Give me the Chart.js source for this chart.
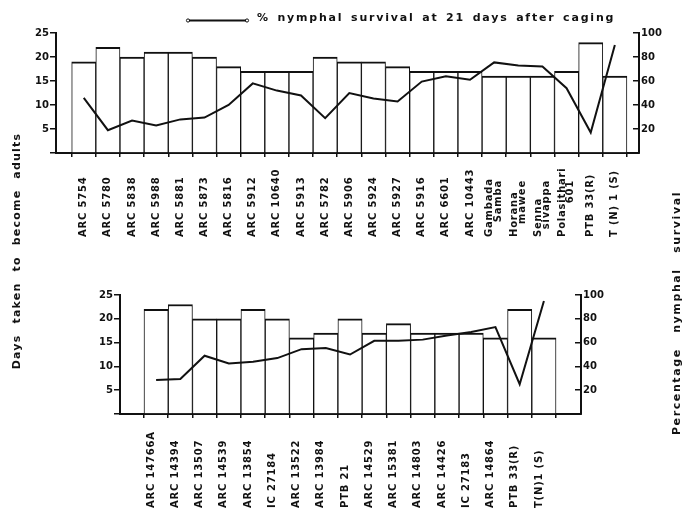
<!DOCTYPE html>
<html>
<head>
<meta charset="utf-8">
<script src="https://cdn.jsdelivr.net/npm/chart.js@4"></script>
<style>
  html, body { margin: 0; padding: 0; background: #fff; }
  #wrap { position: relative; width: 685px; height: 508px; overflow: hidden; }
  #wrap canvas { position: absolute; left: 0; top: 0; }
</style>
</head>
<body>
<div id="wrap">
  <canvas id="topChart" width="685" height="508"></canvas>
  <canvas id="bottomChart" width="685" height="508"></canvas>
</div>
<script>
// upper panel
const topVarieties = ['ARC 5754', 'ARC 5780', 'ARC 5838', 'ARC 5988', 'ARC 5881', 'ARC 5873',
  'ARC 5816', 'ARC 5912', 'ARC 10640', 'ARC 5913', 'ARC 5782', 'ARC 5906', 'ARC 5924',
  'ARC 5927', 'ARC 5916', 'ARC 6601', 'ARC 10443', ['Gambada', 'Samba'], ['Horana', 'mawee'],
  ['Senna', 'sivappa'], ['Polasithari', '601'], 'PTB 33(R)', 'T (N) 1 (S)'];
const topDays = [19, 22, 20, 21, 21, 20, 18, 17, 17, 17, 20, 19, 19, 18, 17, 17, 17, 16, 16, 16, 17, 23, 16];
const topSurvival = [46, 19, 27, 23, 28, 29.5, 40, 58, 52, 48, 29, 50, 45.5, 43, 59.5, 64, 61, 75.5, 73, 72, 54, 17, 90];

// lower panel
const bottomVarieties = ['ARC 14766A', 'ARC 14394', 'ARC 13507', 'ARC 14539', 'ARC 13854', 'IC 27184',
  'ARC 13522', 'ARC 13984', 'PTB 21', 'ARC 14529', 'ARC 15381', 'ARC 14803', 'ARC 14426',
  'IC 27183', 'ARC 14864', 'PTB 33(R)', 'T(N)1 (S)'];
const bottomDays = [22, 23, 20, 20, 22, 20, 16, 17, 20, 17, 19, 17, 17, 17, 16, 22, 16];
const bottomSurvival = [28.5, 29.5, 49, 42.5, 44, 47, 54.5, 55.5, 50, 61.5, 61.5, 62.5, 66, 69, 73, 25, 95];

const daysMax = 25, daysStep = 5;
const survivalMax = 100, survivalStep = 20;

const legendText = '% nymphal survival at 21 days after caging';
const leftTitle = 'Days taken to become adults';
const rightTitle = 'Percentage nymphal survival';

const ink = '#111';
const W = 685, H = 508;

function makePanel(id, cats, days, survival, geo, extra) {
  const tickFont = { family: 'DejaVu Sans', size: 10, weight: 'bold' };

  // variety names, rotated; first line starts at a common baseline,
  // a second line (two-word names) hangs from the top
  const rotLabels = {
    id: 'rotLabels',
    afterDraw(chart) {
      const ctx = chart.ctx, xs = chart.scales.x;
      ctx.save();
      ctx.fillStyle = ink;
      ctx.font = 'bold 10px "DejaVu Sans"';
      ctx.letterSpacing = '0.8px';
      ctx.textBaseline = 'middle';
      cats.forEach((c, i) => {
        const lines = Array.isArray(c) ? c : [c];
        ctx.save();
        ctx.translate(xs.getPixelForValue(i) + geo.labelDx, geo.labelY);
        ctx.rotate(-Math.PI / 2);
        lines.forEach((l, j) => {
          const off = (j - (lines.length - 1) / 2) * 8.5;
          if (j === 0) {
            ctx.textAlign = 'left';
            ctx.fillText(l, 0, off);
          } else {
            ctx.textAlign = 'right';
            ctx.fillText(l, geo.labelY - geo.labelTop, off);
          }
        });
        ctx.restore();
      });
      ctx.restore();
    }
  };

  return new Chart(document.getElementById(id), {
    type: 'bar',
    data: {
      datasets: [{
        type: 'line',
        label: legendText,
        data: survival.map((v, i) => ({ x: i, y: v })),
        yAxisID: 'y2',
        borderColor: ink,
        borderWidth: 2,
        pointRadius: 0,
        tension: 0,
        order: 0
      }, {
        label: 'Days taken to become adults',
        data: days.map((v, i) => ({ x: i, y: v })),
        yAxisID: 'y',
        backgroundColor: '#fff',
        borderColor: ink,
        borderWidth: { top: 2, left: 1, right: 1, bottom: 0 },
        barPercentage: 1,
        categoryPercentage: 1,
        order: 1
      }]
    },
    options: {
      responsive: false,
      animation: false,
      layout: { padding: { top: geo.top, left: 0, right: 0, bottom: 0 } },
      plugins: { legend: { display: false }, tooltip: { enabled: false } },
      scales: {
        x: {
          type: 'linear',
          offset: false,
          min: geo.xMin,
          max: geo.xMax,
          afterBuildTicks: s => { s.ticks = cats.map((c, i) => ({ value: i })); },
          afterFit: s => { s.height = H - geo.bottom; },
          ticks: { display: false },
          grid: { offset: true, drawOnChartArea: false, drawTicks: true, tickLength: 4, color: ink, lineWidth: 1.5 },
          border: { color: ink, width: 2 }
        },
        y: {
          position: 'left',
          min: 0,
          max: daysMax,
          afterFit: s => { s.width = geo.left; },
          ticks: { stepSize: daysStep, padding: 1, color: ink, font: tickFont, callback: v => v === 0 ? '' : v },
          grid: { drawOnChartArea: false, tickLength: 6, color: ink, lineWidth: 1.5 },
          border: { color: ink, width: 2 }
        },
        y2: {
          position: 'right',
          min: 0,
          max: survivalMax,
          afterFit: s => { s.width = W - geo.right; },
          ticks: { stepSize: survivalStep, padding: 8, color: ink, font: tickFont, callback: v => v === 0 ? '' : v },
          grid: { drawOnChartArea: false, tickLength: -6, color: ink, lineWidth: 1.5 },
          border: { color: ink, width: 2 }
        }
      }
    },
    plugins: [rotLabels].concat(extra || [])
  });
}

// legend line and the two shared axis titles
const captions = {
  id: 'captions',
  afterDraw(chart) {
    const ctx = chart.ctx;
    ctx.save();
    ctx.fillStyle = ink;
    ctx.strokeStyle = ink;
    ctx.lineWidth = 2;
    ctx.beginPath();
    ctx.moveTo(189, 20.5);
    ctx.lineTo(246, 20.5);
    ctx.stroke();
    ctx.lineWidth = 1;
    [188, 247].forEach(x => { ctx.beginPath(); ctx.arc(x, 20.5, 1.6, 0, Math.PI * 2); ctx.stroke(); });

    ctx.font = 'bold 11px "DejaVu Sans"';
    ctx.letterSpacing = '1.8px';
    ctx.wordSpacing = '2px';
    ctx.textAlign = 'left';
    ctx.textBaseline = 'alphabetic';
    ctx.fillText(legendText, 257, 21);

    const vertical = (text, x, y, ls, ws) => {
      ctx.save();
      ctx.letterSpacing = ls;
      ctx.wordSpacing = ws;
      ctx.translate(x, y);
      ctx.rotate(-Math.PI / 2);
      ctx.textAlign = 'center';
      ctx.textBaseline = 'middle';
      ctx.fillText(text, 0, 0);
      ctx.restore();
    };
    vertical(leftTitle, 17, 251, '1.2px', '6px');
    vertical(rightTitle, 677, 313, '1.6px', '10px');
    ctx.restore();
  }
};

makePanel('topChart', topVarieties, topDays, topSurvival,
  { left: 56, right: 639, top: 33, bottom: 153, xMin: -1.15, xMax: 23.0, labelY: 237, labelTop: 180, labelDx: 0 },
  [captions]);

makePanel('bottomChart', bottomVarieties, bottomDays, bottomSurvival,
  { left: 120, right: 581, top: 295, bottom: 414, xMin: -1.49, xMax: 17.53, labelY: 508, labelTop: 430, labelDx: -5 });
</script>
</body>
</html>
